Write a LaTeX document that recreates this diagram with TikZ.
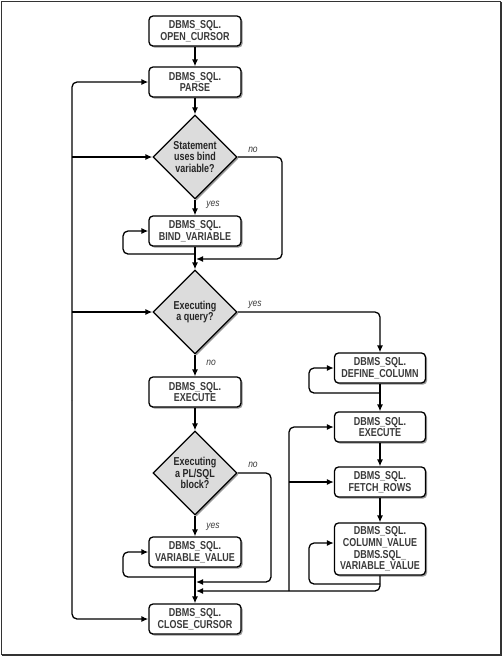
\documentclass[tikz,border=0pt]{standalone}
\usepackage{fontspec}
\setmainfont{Liberation Sans}
\newfontfamily\boxfont[FakeStretch=0.78]{Liberation Sans}
\newfontfamily\lblfont[FakeStretch=0.85]{Liberation Sans}
\usetikzlibrary{shapes.geometric,arrows.meta,shadows}
\definecolor{txt}{HTML}{3A3A3A}
\definecolor{dfill}{HTML}{DCDCDC}
\definecolor{frame}{HTML}{333333}
\begin{document}
\begin{tikzpicture}[x=1pt,y=-1pt,
  shad/.style={drop shadow={shadow xshift=1.6pt,shadow yshift=-1.6pt,fill=black!40,opacity=1}},
  proc/.style={draw,line width=1.3pt,rounded corners=4pt,fill=white,minimum width=92pt,minimum height=30pt,inner sep=0pt,align=center,font=\boxfont\bfseries\fontsize{11.5}{11.6}\selectfont,text=txt,shad},
  dec/.style={diamond,draw,line width=1.3pt,fill=dfill,minimum width=84pt,minimum height=84pt,inner sep=0pt,align=center,font=\boxfont\bfseries\fontsize{11.5}{11.2}\selectfont,text=black!85,shad},
  arr/.style={-{Latex[length=7pt,width=6pt]},line width=1.3pt,rounded corners=5pt},
  lbl/.style={font=\lblfont\itshape\fontsize{10}{10}\selectfont,text=txt,inner sep=0pt}
]
\useasboundingbox (0,0) rectangle (503,657);
\fill[white] (0,0) rectangle (503,657);
\draw[line width=1pt,frame] (1.5,655) -- (1.5,1.5) -- (501,1.5);
\draw[line width=2pt,frame] (501,1.5) -- (501,655) -- (1.5,655);

% main column
\node[proc] (oc) at (195,31) {DBMS\_SQL.\\OPEN\_CURSOR};
\node[proc] (parse) at (195,82) {DBMS\_SQL.\\PARSE};
\node[dec] (d1) at (195,157) {Statement\\uses bind\\variable?};
\node[proc] (bind) at (195,231) {DBMS\_SQL.\\BIND\_VARIABLE};
\node[dec] (d2) at (195,312) {Executing\\a query?};
\node[proc] (exe) at (195,392) {DBMS\_SQL.\\EXECUTE};
\node[dec] (d3) at (195,473) {Executing\\a PL/SQL\\block?};
\node[proc] (vv) at (195,552) {DBMS\_SQL.\\VARIABLE\_VALUE};
\node[proc] (close) at (195,619) {DBMS\_SQL.\\CLOSE\_CURSOR};
% right column
\node[proc,minimum width=91pt] (def) at (380,368) {DBMS\_SQL.\\DEFINE\_COLUMN};
\node[proc,minimum width=91pt] (rexe) at (380,427) {DBMS\_SQL.\\EXECUTE};
\node[proc,minimum width=91pt] (fetch) at (380,482) {DBMS\_SQL.\\FETCH\_ROWS};
\node[proc,minimum width=91pt,minimum height=52pt] (colv) at (380,549) {DBMS\_SQL.\\COLUMN\_VALUE\\DBMS.SQL\_\\VARIABLE\_VALUE};

% junction coordinates
\coordinate (b1) at (195,254);
\coordinate (n1) at (196,259);
\coordinate (b2) at (380,393);
\coordinate (b3) at (380,584);
\coordinate (b4) at (195,577);
\coordinate (n3) at (196,582);
\coordinate (r1) at (196,591);
\coordinate (rj) at (289,591);
\coordinate (rf) at (289,482);
\coordinate (lm) at (72,400);
\coordinate (l1) at (72,157);
\coordinate (l2) at (72,312);

% main flow
\draw[arr] (oc) -- (parse);
\draw[arr] (parse) -- (d1);
\draw[arr] (d1) -- (bind);
\draw[arr] (bind) -- (d2);
\draw[arr] (d2) -- (exe);
\draw[arr] (exe) -- (d3);
\draw[arr] (d3) -- (vv);
\draw[arr] (vv) -- (close);

% loops
\draw[arr] (b1) -| (123,231) -- (bind.west);
\draw[arr] (d1.east) -- (282,157) |- (n1);
\draw[arr] (d2.east) -| (def.north);
\draw[arr] (b2) -| (309,368) -- (def.west);
\draw[arr] (def) -- (rexe);
\draw[arr] (rexe) -- (fetch);
\draw[arr] (fetch) -- (colv);
\draw[arr] (b3) -| (309,543) -- ([yshift=6pt]colv.west);
\draw[arr] (colv.south) |- (r1);
\draw[arr] (rj) |- (rexe.west);
\draw[arr] (rf) -- (fetch.west);
\draw[arr] (d3.east) -- (271,473) |- (n3);
\draw[arr] (b4) -| (123,552) -- (vv.west);
\draw[arr] (lm) |- (parse.west);
\draw[arr] (lm) |- (close.west);
\draw[arr] (l1) -- (d1.west);
\draw[arr] (l2) -- (d2.west);

% labels
\node[lbl] at (253,150) {no};
\node[lbl] at (213,205) {yes};
\node[lbl] at (255,305) {yes};
\node[lbl] at (211,363) {no};
\node[lbl] at (253,465) {no};
\node[lbl] at (213,527) {yes};
\end{tikzpicture}
\end{document}
